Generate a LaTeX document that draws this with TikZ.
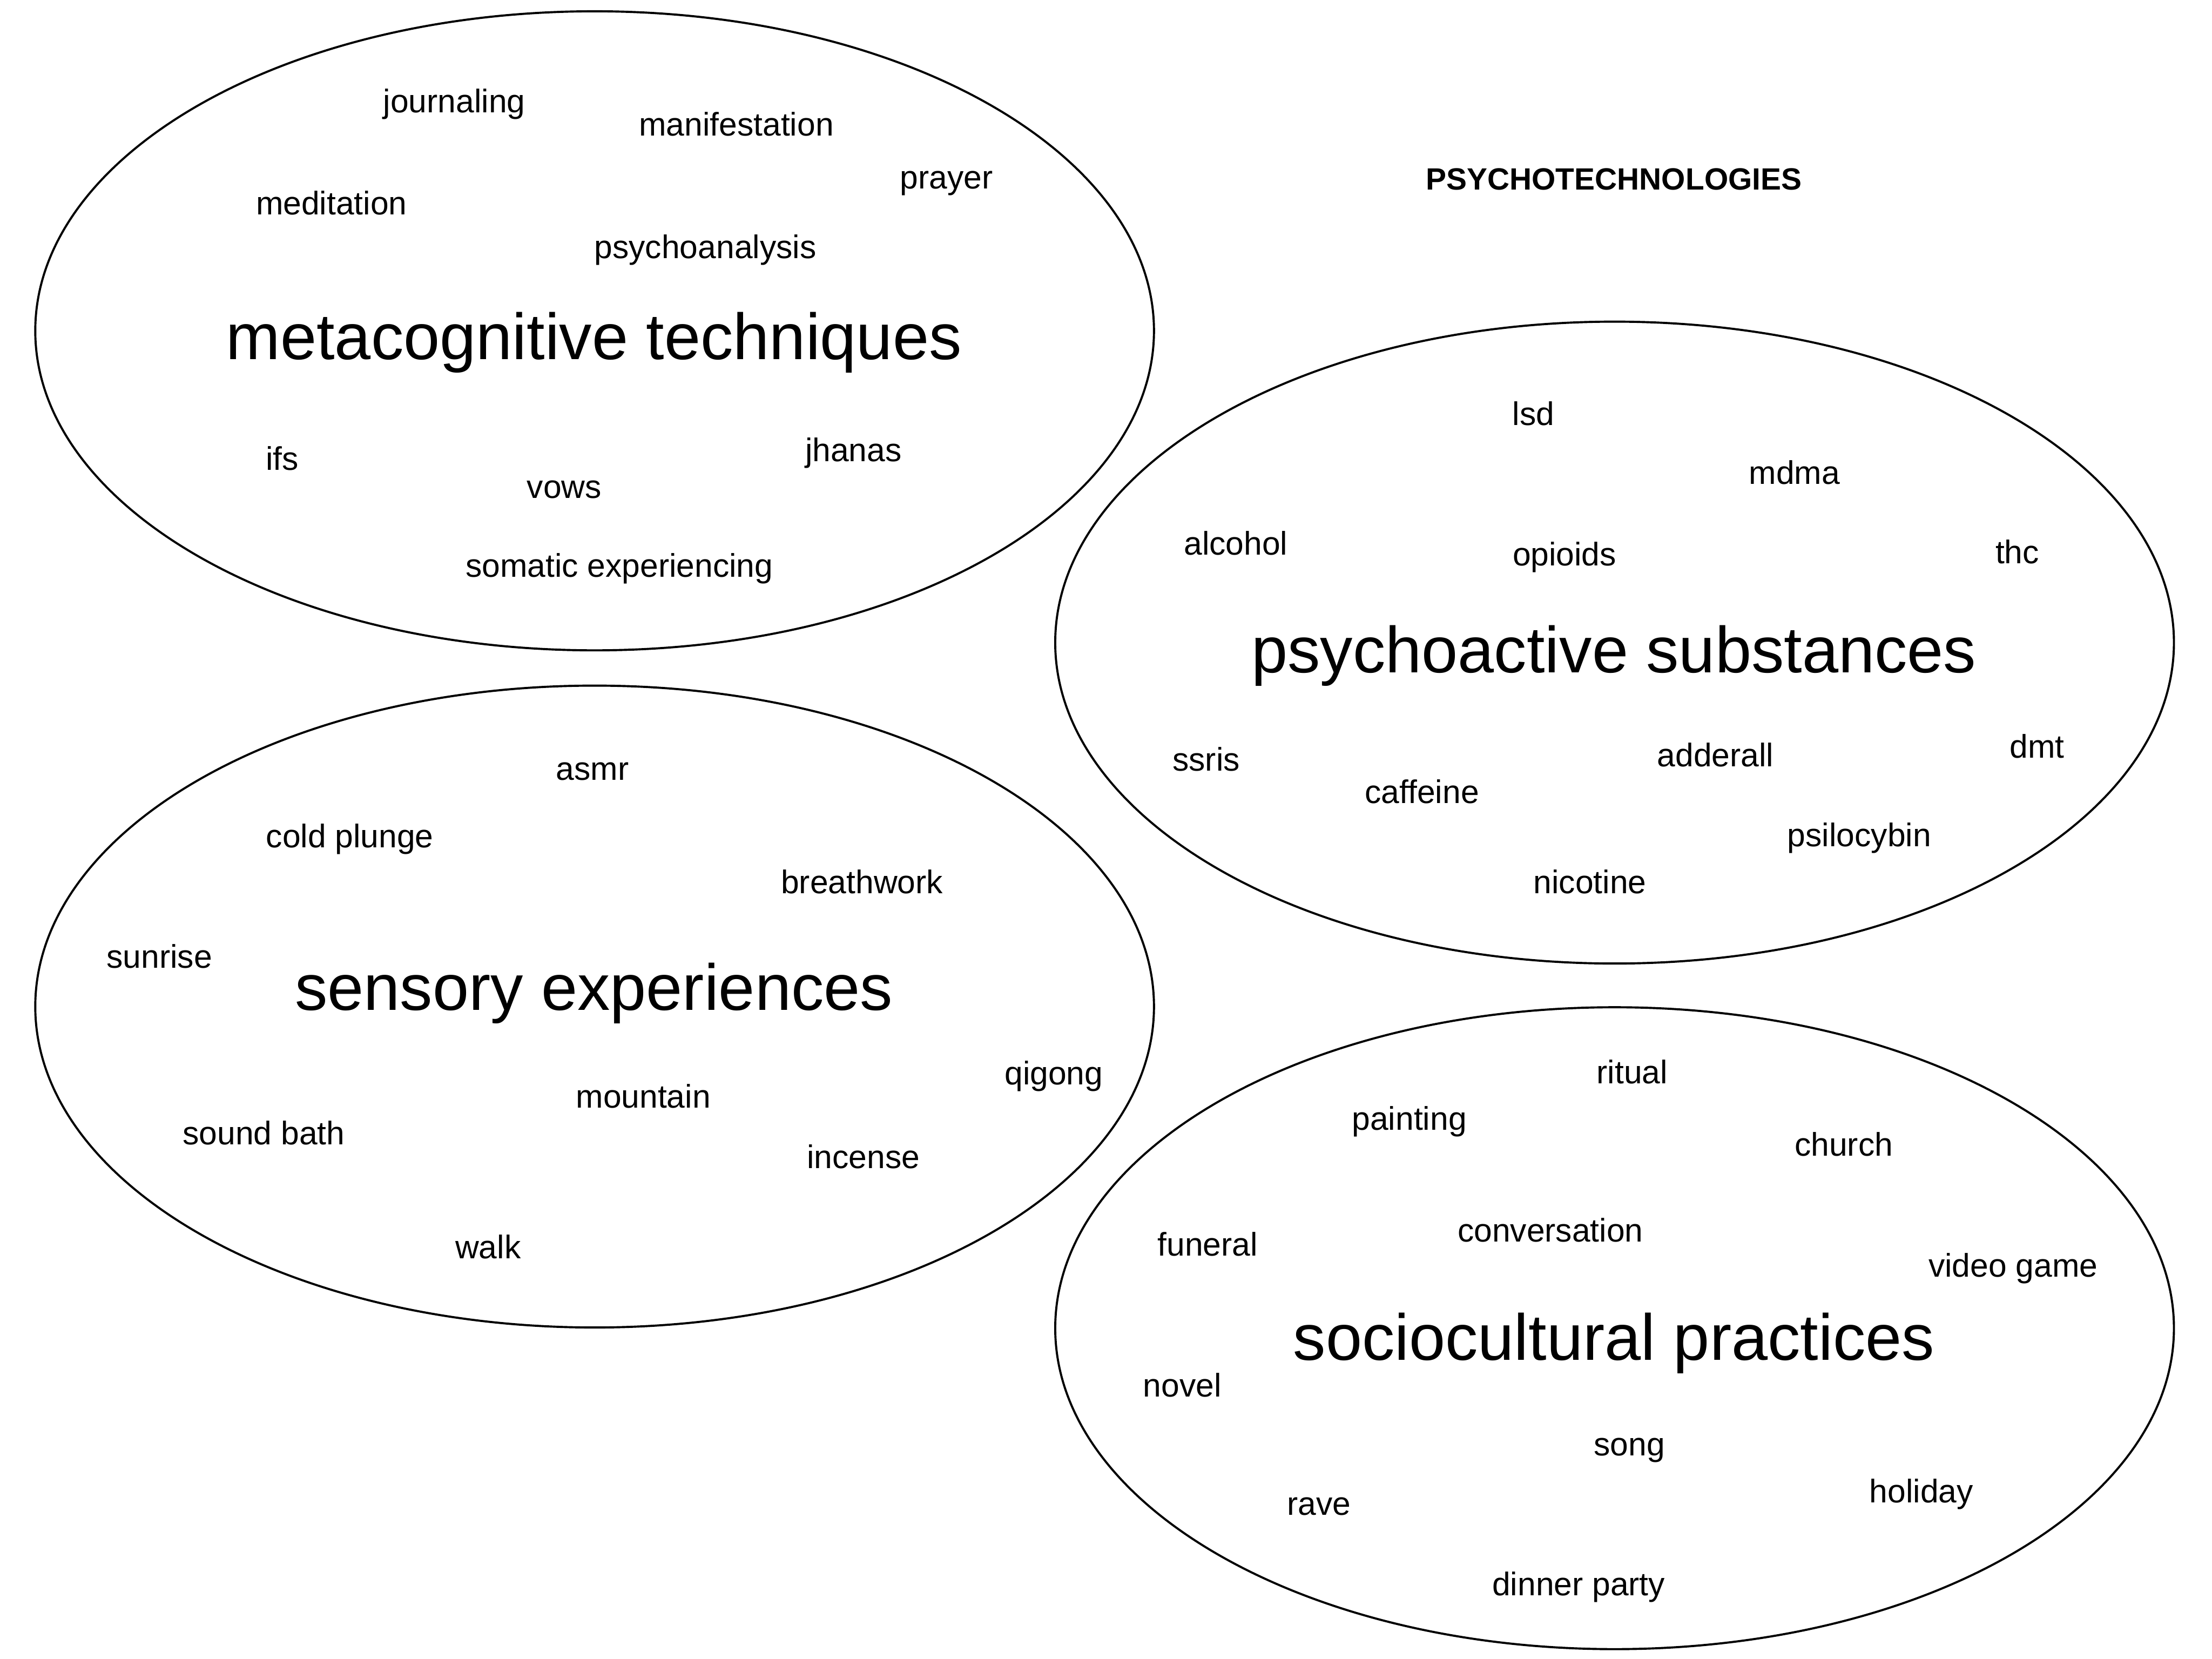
\documentclass[tikz,border=0pt]{standalone}
\usepackage{fontspec}
\setmainfont{Liberation Sans}

\begin{document}
\begin{tikzpicture}[x=0.02cm,y=-0.02cm,line width=0.85pt,
    item/.style={font=\fontsize{13.2}{16}\selectfont,yshift=-0.04cm},
    topic/.style={font=\fontsize{26.3}{32}\selectfont}]
    \useasboundingbox (0,0) rectangle (1568,1176);
    % the four groups
    \draw (421.5,234.5) ellipse [x radius=396.5, y radius=226.5];
    \draw (1144.5,455.5) ellipse [x radius=396.5, y radius=227.5];
    \draw (421.5,713.5) ellipse [x radius=396.5, y radius=227.5];
    \draw (1144.5,941.5) ellipse [x radius=396.5, y radius=227.5];
    \node[font=\bfseries\fontsize{12.4}{15}\selectfont] (title) at (1144,127) {PSYCHOTECHNOLOGIES};
    \begin{scope}[item]
      \node (journaling) at (322,72) {journaling};
      \node (manifestation) at (522,86) {manifestation};
      \node (prayer) at (671,128) {prayer};
      \node (meditation) at (235,142) {meditation};
      \node (psychoanalysis) at (500,175) {psychoanalysis};
      \node (ifs) at (200,323) {ifs};
      \node (jhanas) at (605,319) {jhanas};
      \node (vows) at (400,345) {vows};
      \node (somatic) at (439,401) {somatic experiencing};
    \end{scope}
    \node[topic] (meta) at (421,243) {metacognitive techniques};
    \begin{scope}[item]
      \node (lsd) at (1087,291) {lsd};
      \node (mdma) at (1272,333) {mdma};
      \node (alcohol) at (876,383) {alcohol};
      \node (opioids) at (1109,393) {opioids};
      \node (thc) at (1430,389) {thc};
      \node (ssris) at (855,536) {ssris};
      \node (caffeine) at (1008,559) {caffeine};
      \node (adderall) at (1216,533) {adderall};
      \node (dmt) at (1444,527) {dmt};
      \node (psilocybin) at (1318,592) {psilocybin};
      \node (nicotine) at (1127,623) {nicotine};
    \end{scope}
    \node[topic] (substances) at (1144,465) {psychoactive substances};
    \begin{scope}[item]
      \node (asmr) at (420,545) {asmr};
      \node (plunge) at (248,593) {cold plunge};
      \node (breathwork) at (611,623) {breathwork};
      \node (sunrise) at (113,676) {sunrise};
      \node (qigong) at (747,761) {qigong};
      \node (mountain) at (456,775) {mountain};
      \node (soundbath) at (187,801) {sound bath};
      \node (incense) at (612,818) {incense};
      \node (walk) at (346,882) {walk};
    \end{scope}
    \node[topic] (sensory) at (421,704) {sensory experiences};
    \begin{scope}[item]
      \node (ritual) at (1157,758) {ritual};
      \node (painting) at (999,793) {painting};
      \node (church) at (1307,809) {church};
      \node (funeral) at (856,880) {funeral};
      \node (conversation) at (1099,870) {conversation};
      \node (videogame) at (1427,897) {video game};
      \node (novel) at (838,980) {novel};
      \node (song) at (1155,1026) {song};
      \node (holiday) at (1362,1057) {holiday};
      \node (rave) at (935,1066) {rave};
      \node (dinner) at (1119,1123) {dinner party};
    \end{scope}
    \node[topic] (socio) at (1144,952) {sociocultural practices};
\end{tikzpicture}
\end{document}
